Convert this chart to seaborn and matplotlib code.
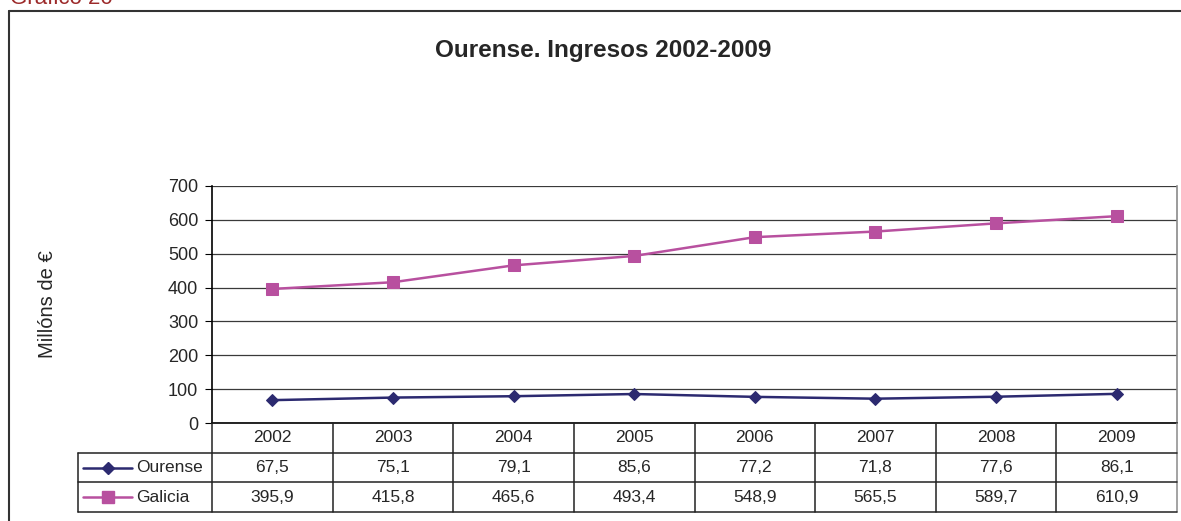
import numpy as np
import pandas as pd
import matplotlib.pyplot as plt
import seaborn as sns
from matplotlib.lines import Line2D

# ==============================================================================
# DATOS
# ==============================================================================
anos = ['2002', '2003', '2004', '2005', '2006', '2007', '2008', '2009']
ourense = [67.5, 75.1, 79.1, 85.6, 77.2, 71.8, 77.6, 86.1]
galicia = [395.9, 415.8, 465.6, 493.4, 548.9, 565.5, 589.7, 610.9]
series = ['Ourense', 'Galicia']
yticks = [0, 100, 200, 300, 400, 500, 600, 700]

cores = {'Ourense': '#2c2a70', 'Galicia': '#b8509f'}
marcadores = {'Ourense': 'D', 'Galicia': 's'}
tam_marcador = {'Ourense': 6.4, 'Galicia': 8.0}

df = pd.DataFrame({
    'Ano': anos * 2,
    'Serie': ['Ourense'] * len(anos) + ['Galicia'] * len(anos),
    'Valor': ourense + galicia,
})
valores = {'Ourense': ourense, 'Galicia': galicia}

sns.set_style('white')
plt.rcParams['font.family'] = ['Liberation Sans', 'DejaVu Sans']

W, H = 1181, 521
fig = plt.figure(figsize=(W / 100, H / 100), dpi=100)


def px(x0, y0, x1, y1):
    return [x0 / W, 1 - y1 / H, (x1 - x0) / W, (y1 - y0) / H]


# ==============================================================================
# GRÁFICO DE LIÑAS
# ==============================================================================
ax = fig.add_axes(px(212, 186, 1177, 423))
for nome in series:
    sns.lineplot(data=df[df['Serie'] == nome], x='Ano', y='Valor', ax=ax,
                 color=cores[nome], marker=marcadores[nome],
                 markersize=tam_marcador[nome], markeredgecolor=cores[nome],
                 linewidth=1.8, legend=False, zorder=3)

ax.set_xlim(-0.5, len(anos) - 0.5)
ax.set_ylim(0, 700)
ax.set_yticks(yticks)
ax.yaxis.grid(True, color='#3a3a3a', linewidth=0.9)
ax.xaxis.grid(False)
ax.set_xticks([])
ax.set_xlabel('')
ax.set_ylabel('Millóns de €', fontsize=14.5)
ax.yaxis.set_label_coords((57 - 212) / 965, 0.5)
ax.tick_params(axis='y', length=5, direction='out', labelsize=13,
               color='black', pad=5, left=True)
for s in ['left', 'bottom']:
    ax.spines[s].set_color('black')
    ax.spines[s].set_linewidth(1.2)
ax.spines['right'].set_color('#8a8a8a')
ax.spines['right'].set_linewidth(1.2)
ax.spines['top'].set_visible(False)

fig.text(603 / W, 1 - 50 / H, 'Ourense. Ingresos 2002-2009',
         fontsize=17.5, fontweight='bold', ha='center', va='center')

# ==============================================================================
# TÁBOA DE DATOS
# ==============================================================================
tax = fig.add_axes(px(212, 423, 1177, 512))
tax.set_xlim(-0.5, len(anos) - 0.5)
tax.set_ylim(3, 0)
tax.axis('off')

col = 965 / len(anos)
leg_l = -0.5 - (212 - 78) / col
cor_linha = '#222222'
fs_taboa = 12.5

for i in range(len(anos) + 1):
    tax.plot([i - 0.5, i - 0.5], [0, 3], color=cor_linha if i < len(anos) else '#8a8a8a',
             lw=1.1, clip_on=False)
for r in [1, 2, 3]:
    tax.plot([leg_l, len(anos) - 0.5], [r, r], color=cor_linha, lw=1.1, clip_on=False)
tax.plot([leg_l, leg_l], [1, 3], color=cor_linha, lw=1.1, clip_on=False)

for i, ano in enumerate(anos):
    tax.text(i, 0.5, ano, ha='center', va='center', fontsize=fs_taboa)

for r, nome in enumerate(series, start=1):
    for i, v in enumerate(valores[nome]):
        tax.text(i, r + 0.5, f'{v:.1f}'.replace('.', ','), ha='center', va='center',
                 fontsize=fs_taboa)
    x0 = -0.5 - (212 - 83) / col
    x1 = -0.5 - (212 - 132) / col
    tax.add_line(Line2D([x0, x1], [r + 0.5, r + 0.5], color=cores[nome], lw=1.8, clip_on=False))
    tax.add_line(Line2D([(x0 + x1) / 2], [r + 0.5], color=cores[nome], marker=marcadores[nome],
                        markersize=tam_marcador[nome], markeredgecolor=cores[nome], clip_on=False))
    tax.text(-0.5 - (212 - 136) / col, r + 0.5, nome, ha='left', va='center', fontsize=fs_taboa)

# ==============================================================================
# MARCO E TÍTULO DA FIGURA
# ==============================================================================
fig.add_artist(Line2D([9 / W, 9 / W], [0, 1 - 11 / H], color='#333333', lw=1.5))
fig.add_artist(Line2D([9 / W, 1], [1 - 11 / H, 1 - 11 / H], color='#333333', lw=1.5))
fig.text(10 / W, 1 - 4 / H, 'Gráfico 20', va='baseline', ha='left',
         fontsize=16, color='#9c2a2a')

plt.savefig('out.png', dpi=100)
plt.close()
